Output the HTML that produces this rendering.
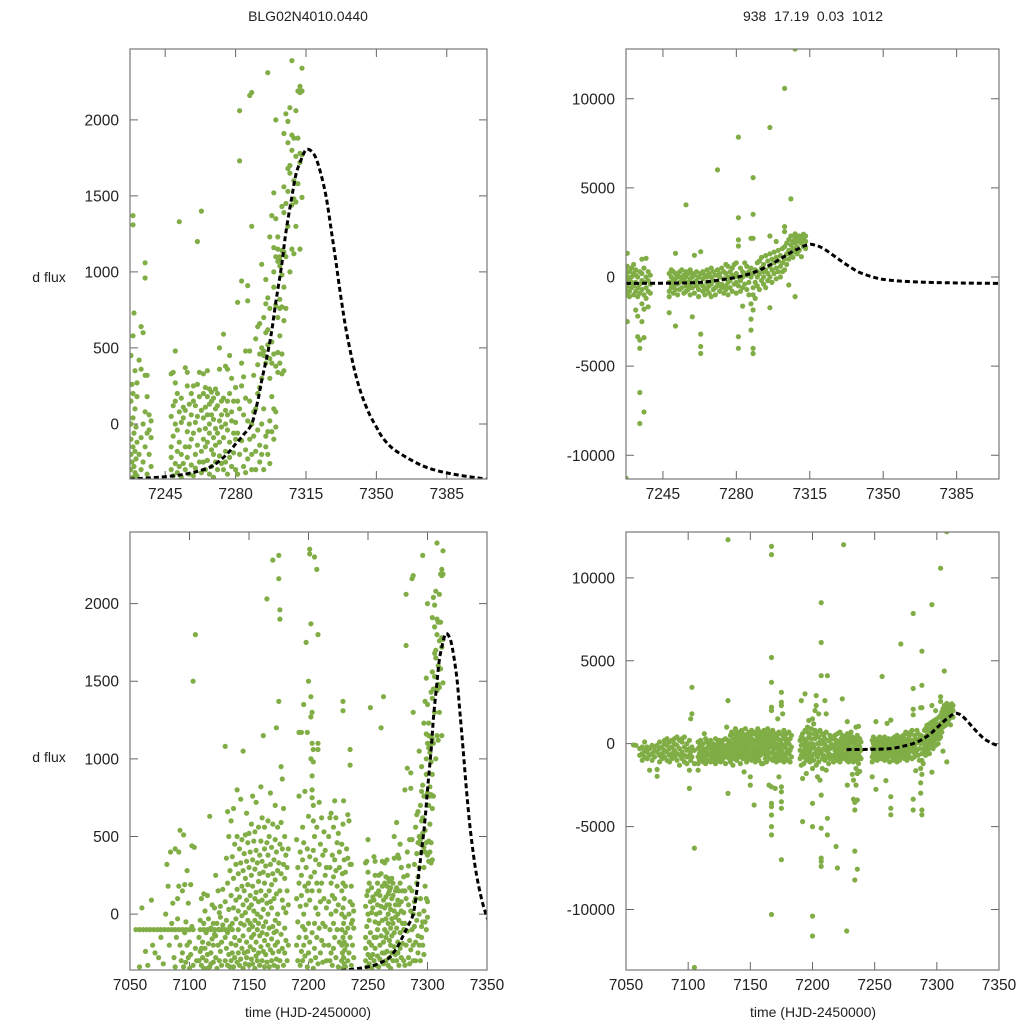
<!DOCTYPE html>
<html><head><meta charset="utf-8">
<style>
html,body{margin:0;padding:0;background:#fff;}
svg text{font-family:"Liberation Sans",sans-serif;fill:#222;}
</style></head>
<body>
<svg id="chart" width="1024" height="1024" viewBox="0 0 1024 1024" xmlns="http://www.w3.org/2000/svg">
<rect x="0" y="0" width="1024" height="1024" fill="#fff"/>
<text x="308" y="21" font-size="14" text-anchor="middle">BLG02N4010.0440</text>
<text x="813" y="21" font-size="14" text-anchor="middle" xml:space="preserve">938  17.19  0.03  1012</text>
<text x="49" y="282" font-size="14" text-anchor="middle">d flux</text>
<text x="49" y="762" font-size="14" text-anchor="middle">d flux</text>
<text x="308" y="1017" font-size="14" text-anchor="middle">time (HJD-2450000)</text>
<text x="813" y="1017" font-size="14" text-anchor="middle">time (HJD-2450000)</text>
</svg>
<script>
// ---------- data ----------
const xTicksZoom = [7245, 7280, 7315, 7350, 7385];
const xTicksFull = [7050, 7100, 7150, 7200, 7250, 7300, 7350];
const yTicksLeft = [0, 500, 1000, 1500, 2000];
const yTicksRight = [-10000, -5000, 0, 5000, 10000];

// model curve (left dataset): [time, flux]
const modelLeft = [[7227.4,-363],[7245,-347],[7255,-330],[7262,-308],[7268,-280],[7272,-242],[7276,-195],[7280,-132],[7284,-70],[7288,0],[7291,150],[7293,286],[7296,470],[7298,615],[7300,800],[7303,1055],[7305,1260],[7308,1495],[7310,1640],[7312.5,1736],[7314.5,1795],[7316,1807],[7318,1790],[7320,1747],[7322.5,1640],[7325,1495],[7327.5,1280],[7330,1055],[7332.5,820],[7335,615],[7337.5,450],[7340,308],[7343,180],[7346.5,66],[7350,-20],[7353,-88],[7358,-160],[7365,-220],[7375,-286],[7388,-330],[7405,-363]];
// model curve (right dataset)
const modelRight = [[7227.4,-356],[7245,-345],[7259.5,-318],[7266,-260],[7272,-169],[7276,-100],[7280,-19],[7284,100],[7288,243],[7292,440],[7296,674],[7300,950],[7304,1236],[7307,1440],[7310,1610],[7312.5,1750],[7315,1835],[7317,1810],[7319,1742],[7322,1560],[7326,1236],[7330,900],[7334,580],[7338,300],[7342,112],[7346,-30],[7350,-131],[7356,-210],[7363,-262],[7370,-295],[7379,-318],[7390,-340],[7405,-356]];

// observations, left dataset: [time, [flux values]]
const obsLeft = [
[7055,[-100]],[7058,[-100,-340]],[7060,[40]],[7061,[-100]],[7063,[-240]],[7064,[-100]],[7065,[-330]],[7067,[-100]],[7068,[90]],[7069,[-200]],[7070,[-100]],[7071,[-250]],[7073,[-100]],[7074,[-280]],[7076,[-100,-150]],[7078,[-320]],[7079,[-100]],[7080,[0]],[7081,[320]],[7082,[-100,180]],[7083,[-200]],[7084,[400]],[7085,[-100,-60]],[7086,[70]],[7087,[-280]],[7088,[-100,-340,420]],[7089,[-150]],[7090,[100,-30]],[7091,[-100,180,400]],[7092,[540,-200]],[7093,[-300]],[7094,[-100,150,-250]],[7095,[510,-340]],[7096,[190,-120]],[7097,[-100,-50,-310]],[7098,[280,-200]],[7099,[70,-280]],[7100,[-100,-180,-350]],[7101,[-260,190]],[7102,[440,-80]],[7103,[-100,1500,-330]],[7104,[430]],[7105,[1800,-220]],[7106,[-300]],
[7108,[-150,-300]],[7109,[-100,-40,-240]],[7110,[-330,100,-220]],[7111,[-180,-280]],[7112,[-100,-60,-350,130]],[7113,[-220,20]],[7114,[-120,-300]],[7115,[-100,120,-260,-350]],[7116,[-30,-190]],[7117,[-340,630]],[7118,[-100,-90,-250,-320]],[7119,[-160,60]],[7120,[-310,-200,-60]],[7121,[-100,40,-130]],[7122,[-280,250,-140]],[7123,[-60,-350]],[7124,[-100,-200,150]],[7125,[-100,-300,10]],[7126,[-240,50,-20]],[7127,[-100,-180,-330]],[7128,[160,-70]],[7130,[-100,-300,80,1080,-150]],
[7131,[360,-220,-40]],[7132,[-330,200,660,-120]],[7133,[-100,500,-260,30]],[7134,[-80,-340,280]],[7135,[120,-190,600,-300]],[7136,[-100,370,-60,-250]],[7137,[-340,230,680,40]],[7138,[-150,450,-280]],[7139,[90,-30,320,-200]],[7140,[-310,500,160,800]],[7141,[-100,260,-250,20]],[7142,[420,-330,110,-170]],[7143,[330,-60,740,-290]],[7144,[-220,180,480,-10]],[7145,[1050,-350,60,280,-140]],[7146,[390,-250,150,-70]],[7147,[-320,510,230,10]],[7148,[-180,340,90,-280,650]],[7149,[460,-40,-240,190]],[7150,[-100,300,-330,520,40]],[7151,[120,-210,400,-60]],[7152,[-290,250,580,-150,60]],[7153,[350,-80,-320,180,760]],[7154,[-230,470,20,-130]],[7155,[100,-350,290,-40,530]],[7156,[-180,410,-270,140,720]],[7157,[330,-100,0,-300]],[7158,[-250,560,210,-60,80]],[7159,[380,-140,-330,260]],[7160,[-20,470,-210,150,820]],[7161,[620,-300,90,-120,340]],[7162,[-80,1150,270,-240,30]],[7163,[420,-170,-340,200,560]],[7164,[-50,310,-260,120]],[7165,[2030,-130,460,-310,70]],[7166,[250,-200,380,0,600]],[7167,[-340,150,-90,500]],[7168,[320,-230,80,780]],[7169,[-160,430,-300,190,40]],[7170,[2280,580,-80,260,-250]],[7171,[-120,350,-330,100]],[7172,[480,-40,-200,220,700]],[7173,[1200,-290,130,400,-110]],[7174,[280,-180,0,560,-340]],[7175,[2310,2160,1370,-60,330,-240]],[7176,[1960,1900,450,150,-300]],[7177,[950,590,-130,260]],[7178,[-220,420,90,870]],[7179,[320,-330,40,680]],[7180,[-90,230,500,-250]],[7181,[380,-170,10]],[7182,[-300,150,300]],[7183,[60,-200,420]],
[7190,[-200,100,480]],[7191,[300,-300,-50]],[7192,[1170,-150,200,760]],[7193,[-330,400,50]],[7194,[120,-240,1170,250]],[7195,[-80,350,-300,560]],[7196,[460,0,-200,1350]],[7197,[-270,180,790,-100]],[7198,[1750,300,-150,60]],[7199,[-340,420,150,1170]],[7200,[200,-60,-250,630,1500]],[7201,[2350,2320,-180,370,90]],[7202,[1870,1400,1270,1000,-300,240]],[7203,[1300,1100,890,800,750,150,-120]],[7204,[1060,980,700,600,410,-350]],[7205,[2300,500,-60,270,-220]],[7206,[350,40,-280]],[7207,[2220,-150,200,560]],[7208,[1800,1100,1060,0,-320]],[7209,[320,-90,150,720]],[7210,[-250,450,80]],[7211,[200,-170,620]],[7212,[-60,380,-310]],[7213,[530,100,-200]],[7214,[250,-80,410]],[7215,[-300,40,300]],
[7217,[500,-200,80]],[7218,[-100,620,300,-300]],[7219,[200,-250,0,650]],[7220,[-330,380,120]],[7221,[560,-60,-220,240]],[7222,[730,-150,100,350]],[7223,[-280,280,620,20]],[7224,[180,-100,460]],[7225,[-340,520,60]],[7226,[300,-180,400]],
[7227.8,[-300]],[7228,[-200,-100,0,150,450]],[7228.5,[-250,260]],[7229,[1370,1310,-350,-150,40,200,580]],[7229.5,[730,-60,-280]],[7230,[-180,100,-320,350]],[7230.5,[-20,-230]],[7231,[-120,180,270,-340]],[7232,[420,-200]],[7233,[640,-90,360,-300]],[7234,[600,0,-250]],[7235,[1060,960,-150,80,320]],[7236,[320,-60,-330,180]],[7237,[60,-200,-40]],[7238,[-90,-280,20]],
[7248,[-300,-150,50,330,-220]],[7249,[340,-80,120,-340]],[7250,[480,270,-260,0,150]],[7251,[-180,-40,200,-320]],[7252,[1330,80,-120,-280]],[7253,[-200,170,10,-350]],[7254,[40,-260,110]],[7255,[-150,370,90,-300]],[7256,[250,-220,-50,340]],[7257,[-330,130,0,-150]],[7258,[200,-100,-270,60]],[7259,[250,-60,-340,150]],[7260,[120,-200,10,-290]],[7261,[1200,260,-140,50]],[7262,[-250,-40,180,340]],[7263,[1400,90,-320,-180]],[7264,[330,-100,-250,40,200]],[7265,[-150,240,-300,110,-30]],[7266,[180,-240,60,-120,350]],[7267,[-60,230,-330,130,0]],[7268,[210,-170,-280,60,150]],[7269,[-90,170,-200,30,-350]],[7270,[230,-30,-250,100,-140]],[7271,[120,-300,-60,200]],[7272,[360,-210,20,-120,500]],[7273,[60,-260,-20,150]],[7274,[590,-90,170,-300]],[7275,[-180,90,380,-250,0]],[7276,[360,-40,-330,150,60]],[7277,[200,-120,-220,450]],[7278,[80,-280,20,300]],[7279,[-60,150,-190]],[7280,[240,-100,-300,10]],[7281,[800,150,-60,-330]],[7282,[2060,1730,100,-200]],[7283,[940,400,250,-110]],[7284,[60,-280,310]],[7285,[480,-170,170,-320]],[7286,[910,810,20,-230]],[7287,[2160,480,-100,150]],[7288,[2180,1300,0,-200,-300]],[7289,[320,-80,80]],[7290,[100,-180,-300,560]],[7291,[640,200,-40,390]],[7292,[660,460,240,-140,-250]],[7293,[1050,500,300,0,-200]],[7294,[700,480,450,100,-300]],[7295,[950,790,600,400,-80,-150]],[7296,[2310,830,620,520,-50,-200]],[7297,[1230,760,430,300,20,-260]],[7298,[1370,540,400,180,-50]],[7299,[1520,1160,1000,900,460,100,-100]],[7300,[2000,1350,1100,780,380,80,-20]],[7301,[1230,1150,1070,700,470,340]],[7302,[1100,1080,1040,820,760,580,400]],[7303,[1430,1140,980,770,330,460]],[7304,[1910,1560,1390,1130,900,680,350]],[7305,[2040,1450,1100,760]],[7306,[1990,1850,1680,1530,1300]],[7307,[2080,1700,1650,1000]],[7308,[2390,1900,1800,1440,1150]],[7309,[1880,1600,1480,1120]],[7310,[2060,1760,1460,1300]],[7311,[2190,1880,1580]],[7312,[2220,2180,1780,1150,1720]],[7313,[2340,2190,1770,1490]]
];

// observations, right dataset: [time, [flux values]]
const obsRight = [
[7056,[-80]],[7058,[-100]],[7061,[-300,-700]],[7063,[-200,-600,-1000]],[7065,[-400,-800,100]],[7067,[-500,-200,-900]],[7069,[-300,-700,-1600]],[7071,[-100,-600,-1000]],[7073,[-400,-800,-200]],[7075,[-1560,-1970,-500,-100]],[7077,[-300,-700,-1100,100]],[7079,[-600,-200,-900]],[7081,[-400,0,-800,200]],[7083,[-500,-100,-1000,300]],[7085,[-300,-700,100,-1100]],[7087,[-600,200,-200,-900]],[7089,[-400,300,-800,0]],[7091,[-100,-600,400,-1000]],[7093,[-300,200,-700,-1300]],[7095,[-500,100,-900,300]],[7097,[-200,-700,400,-1100]],[7099,[-400,0,-800,-1200]],[7101,[-2700,-1600,-300,200,-700]],[7102,[1500,-500,-1000]],[7103,[3400,1800,-200,-800]],[7105,[-6300,-13500,-400,-1200]],
[7108,[-300,-800,100,-1200,-1600]],[7109,[-600,-200,-1000]],[7110,[-500,-100,-900,200]],[7111,[-400,0,-800]],[7112,[-700,-300,-1100,0]],[7113,[-500,600,-900]],[7114,[-400,300,-800,-1200]],[7115,[-300,-700,100]],[7116,[-600,-200,-1000,100]],[7117,[-600,-100,-1000]],[7118,[-300,-700,200,-1100]],[7119,[-400,-800,0]],[7120,[-500,-100,-900,0]],[7121,[-200,-600,-1100]],[7122,[-400,-800,300,-1200,-1000]],[7123,[-500,-100,-900]],[7124,[-600,-200,-1000,100]],[7125,[-400,-800,200]],[7126,[-300,-700,0,-1100]],[7127,[-300,-700,-1000]],[7128,[-500,-100,-900,200]],
[7130,[-300,-800,300,-1200]],[7131,[1000,-100,-600]],[7132,[12300,2600,-3000,200,-500]],[7133,[-900,100,-300]],[7134,[500,-700,-200,-1100]],[7135,[0,-500,700]],[7136,[-1300,300,-800,-100]],[7137,[600,-400,-900]],[7138,[100,-200,-700,900]],[7139,[-500,400,-1000]],[7140,[-100,700,-600,200]],[7141,[-300,-800,500]],[7142,[300,-500,-1200,0]],[7143,[800,-200,-700]],[7144,[-400,200,-900,600]],[7145,[-1700,0,500,-600]],[7146,[400,-300,-800,900]],[7147,[-100,-500,300,-1100]],[7148,[600,-200,-700,100]],[7149,[-400,700,-900,200]],[7150,[-2500,-2000,0,500,-600]],[7151,[300,-300,-1000,800]],[7152,[-500,100,600,-800]],[7153,[-3700,200,-200,-700]],[7154,[700,-400,-1100,100]],[7155,[0,500,-600,-900]],[7156,[-300,900,-800,300]],[7157,[200,-500,-1000,600]],[7158,[-100,700,-700,0]],[7159,[400,-400,-1200,200]],[7160,[-1200,-200,600,-600]],[7161,[800,0,-500,300]],[7162,[-300,500,-900,100]],[7163,[600,-100,-700,-1100]],[7164,[200,-400,900,-800]],[7165,[-2500,-200,400,-600]],[7166,[700,0,-900,300]],[7167,[11900,11400,5200,3700,2200,2000,-2600,-3600,-3800,-4300,-5000,-5500,-10300,-200,500]],[7168,[-500,200,-1000,800]],[7169,[400,-300,-700,100]],[7170,[-2700,600,-100,-800]],[7171,[0,500,-600,-1100]],[7172,[1500,-300,300,-900]],[7173,[-2000,700,-200,-700]],[7174,[200,-500,600,-1000]],[7175,[3100,2500,2300,-2600,-2900,-3500,-3900,-7000,0,-400]],[7176,[1800,500,-800,-200]],[7177,[300,-600,-1100,800]],[7178,[-100,400,-700]],[7179,[600,-300,-900,100]],[7180,[-500,200,-1000]],[7181,[0,700,-600]],[7182,[300,-400,-1100]],[7183,[-200,500,-800]],
[7190,[-400,200,-900]],[7191,[2600,-100,-700,400,-1300]],[7192,[600,-500,-2100,-4700]],[7193,[0,-800,300,-1200]],[7194,[3000,-300,800,-600]],[7195,[-1000,200,-1800,-100]],[7196,[700,-400,-900,1000]],[7197,[1400,-200,400,-700]],[7198,[0,600,-1100,-500]],[7199,[900,-300,300,-900]],[7200,[-1500,-3600,-5000,-10400,-11600,1500,0,-700]],[7201,[600,-200,1200,-1000]],[7202,[2000,300,-600,800]],[7203,[2900,2300,-400,500,-1300]],[7204,[0,700,-800,-2000]],[7205,[1800,-300,400,-1100]],[7206,[800,-600,100,-2200]],[7207,[8500,6100,4100,-3100,-5100,-6900,-7100,-7400,0,-500]],[7208,[600,-900,200,-1500]],[7209,[-300,500,-700]],[7210,[2600,0,-1000,300]],[7211,[1800,-1600,-400,700]],[7212,[4100,-4500,-5500,-200,-800]],[7213,[200,-600,-1200]],[7214,[500,-300,-900]],[7215,[0,-700,300]],
[7217,[-200,-700,300,-1100]],[7218,[500,-400,-900]],[7219,[-6200,0,-600,200]],[7220,[-7500,-300,-1000,600]],[7221,[100,-500,-800]],[7222,[700,-200,-1100]],[7223,[-400,300,-700]],[7224,[2700,0,-900,500]],[7225,[12000,-300,-600,200]],[7226,[400,-800,-100]],
[7227.5,[-200,-700,400,-1000,200,-11300]],[7228,[-2500,1330,-500,0,-900,600]],[7229,[-300,-800,300,-100,-1100]],[7230,[500,-600,0,-300]],[7231,[-1000,200,-500,700]],[7232,[-1850,-300,100,-800,400]],[7233,[-3350,-2200,-600,0,-1100]],[7234,[-3540,-4000,-6480,-8220,-400,300,-900]],[7235,[-2500,-1500,200,-700,-200,1000]],[7236,[-7570,-3400,-1800,-300,500,-1000]],[7237,[1050,-600,0,-1200]],[7238,[-1670,-200,300,-800]],[7239,[-400,100,-900]],
[7248,[-2000,-300,200,-800,-1100]],[7249,[0,-600,400,-400]],[7250,[-200,300,-900,-500]],[7251,[1330,-2750,-100,-700,200]],[7252,[-400,100,-1000]],[7253,[-300,300,-700,0]],[7254,[-600,-100,400]],[7255,[-200,-900,100]],[7256,[4050,-500,0,300,-800]],[7257,[-300,200,-700]],[7258,[-1000,-100,400,-500]],[7259,[-2230,0,-600,200]],[7260,[1220,-300,-900,100]],[7261,[-500,300,-200]],[7262,[0,-700,-1100]],[7263,[1420,-3200,-3900,-4290,-400,200]],[7264,[-800,-100,300,-500]],[7265,[100,-600,-1000]],[7266,[-300,400,-700,0]],[7267,[-500,200,-900]],[7268,[0,-400,500,-1100]],[7269,[-200,300,-700]],[7270,[-600,100,-1000]],[7271,[6010,-300,400,-500]],[7272,[0,-800,200]],[7273,[-400,500,-600]],[7274,[-100,300,-900]],[7275,[-500,200,-700,700]],[7276,[0,-300,600,-1000]],[7277,[-600,300,-200]],[7278,[100,-800,500]],[7279,[-400,700,0]],[7280,[-900,200,-300,800]],[7281,[7850,3330,2080,1740,-3350,-4000,0,-500]],[7282,[500,-200,-800]],[7283,[-1630,300,0,-600]],[7284,[800,-400,200]],[7285,[100,-700,600]],[7286,[-1000,300,-300]],[7287,[2170,-2360,-2980,-1500,0,500]],[7288,[5580,3520,2170,-4000,-4290,-1850,-1000,200,-600]],[7289,[-1200,400,-300]],[7290,[800,0,-500,300]],[7291,[200,900,-700]],[7292,[-200,500,1100]],[7293,[0,700,-400,300]],[7294,[1200,400,-600]],[7295,[200,900,-200]],[7296,[8390,2300,-1720,600,0,1300]],[7297,[400,1000,-300]],[7298,[800,200,1400]],[7299,[1990,500,1100,-100]],[7300,[900,300,1500]],[7301,[1200,600,0]],[7302,[1600,800,300]],[7303,[10580,2830,2550,1000,1700,400]],[7304,[1300,700,1900]],[7305,[1500,1000,2100,-450]],[7306,[4380,1800,1200,2300]],[7307,[1600,2000,1100]],[7308,[12790,2420,-1100,1900,1400,2200]],[7309,[1700,2100,1300]],[7310,[2000,1500,2300]],[7311,[1900,1140,2200]],[7312,[2100,1700,2400]],[7313,[2000,1600,2300]]
];

// ---------- drawing ----------
const NS = 'http://www.w3.org/2000/svg';
const svg = document.getElementById('chart');
function mk(tag, attrs, parent) {
  const e = document.createElementNS(NS, tag);
  for (const k in attrs) e.setAttribute(k, attrs[k]);
  (parent || svg).appendChild(e);
  return e;
}
function smoothPath(pts) {
  let d = 'M' + pts[0][0].toFixed(1) + ',' + pts[0][1].toFixed(1);
  for (let i = 0; i < pts.length - 1; i++) {
    const p0 = pts[Math.max(0, i - 1)], p1 = pts[i], p2 = pts[i + 1], p3 = pts[Math.min(pts.length - 1, i + 2)];
    const c1x = p1[0] + (p2[0] - p0[0]) / 6, c1y = p1[1] + (p2[1] - p0[1]) / 6;
    const c2x = p2[0] - (p3[0] - p1[0]) / 6, c2y = p2[1] - (p3[1] - p1[1]) / 6;
    d += 'C' + c1x.toFixed(1) + ',' + c1y.toFixed(1) + ' ' + c2x.toFixed(1) + ',' + c2y.toFixed(1) + ' ' + p2[0].toFixed(1) + ',' + p2[1].toFixed(1);
  }
  return d;
}

const panels = [
  {id:'top-left', box:[130,49,487,479], xd:[7227.5,7405], yd:[-362,2466], obs:obsLeft, model:modelLeft, modelFrom:7227.4, xt:xTicksZoom, yt:yTicksLeft, tFrom:7227.4},
  {id:'top-right', box:[626,49,999,479], xd:[7227.4,7405.2], yd:[-11331,12792], obs:obsRight, model:modelRight, modelFrom:7227.4, xt:xTicksZoom, yt:yTicksRight, tFrom:7227.4},
  {id:'bottom-left', box:[130,532,487,970], xd:[7050,7350], yd:[-360,2461], obs:obsLeft, model:modelLeft, modelFrom:7227.4, xt:xTicksFull, yt:yTicksLeft, tFrom:0},
  {id:'bottom-right', box:[626,532,999,970], xd:[7050,7350], yd:[-13650,12766], obs:obsRight, model:modelRight, modelFrom:7227.4, xt:xTicksFull, yt:yTicksRight, tFrom:0}
];

panels.forEach(function(p){
  const [x0,y0,x1,y1] = p.box;
  const sx = v => x0 + (v - p.xd[0]) / (p.xd[1] - p.xd[0]) * (x1 - x0);
  const sy = v => y1 - (v - p.yd[0]) / (p.yd[1] - p.yd[0]) * (y1 - y0);
  const g = mk('g', {});
  
  
  const cp = mk('clipPath', {id:'clip-' + p.id}, g);
  mk('rect', {x:x0, y:y0, width:x1-x0, height:y1-y0}, cp);

  p.xt.forEach(function(t){
    const x = sx(t);
    const tk = mk('path', {d:`M${x},${y1}v-8M${x},${y0}v8`, stroke:'#666', 'stroke-width':1}, g);
    
    
    const lb = mk('text', {x:x, y:y1+20, 'font-size':15.5, 'text-anchor':'middle'}, g);
    lb.textContent = t;
    
    
  });
  p.yt.forEach(function(t){
    const y = sy(t);
    const tk = mk('path', {d:`M${x0},${y}h8M${x1},${y}h-8`, stroke:'#666', 'stroke-width':1}, g);
    
    
    const lb = mk('text', {x:x0-11, y:y+5.5, 'font-size':15.5, 'text-anchor':'end'}, g);
    lb.textContent = t;
    
    
  });

  const pg = mk('g', {'clip-path':'url(#clip-' + p.id + ')', fill:'#80ad45'}, g);
  
  
  p.obs.forEach(function(o){
    const t = o[0];
    if (t < p.tFrom || t > p.xd[1]) return;
    o[1].forEach(function(v){
      const c = mk('circle', {cx:sx(t).toFixed(1), cy:sy(v).toFixed(1), r:2.6}, pg);
      
      
    });
  });

  const pts = p.model.filter(m => m[0] >= p.modelFrom).map(m => [sx(m[0]), sy(m[1])]);
  const line = mk('path', {d:smoothPath(pts), fill:'none', stroke:'#000', 'stroke-width':3, 'stroke-dasharray':'5,3', 'clip-path':'url(#clip-' + p.id + ')'}, g);
  
  

  const fr = mk('rect', {x:x0, y:y0, width:x1-x0, height:y1-y0, fill:'none', stroke:'#777', 'stroke-width':1.2}, g);
  
  
});
</script>
</body></html>
